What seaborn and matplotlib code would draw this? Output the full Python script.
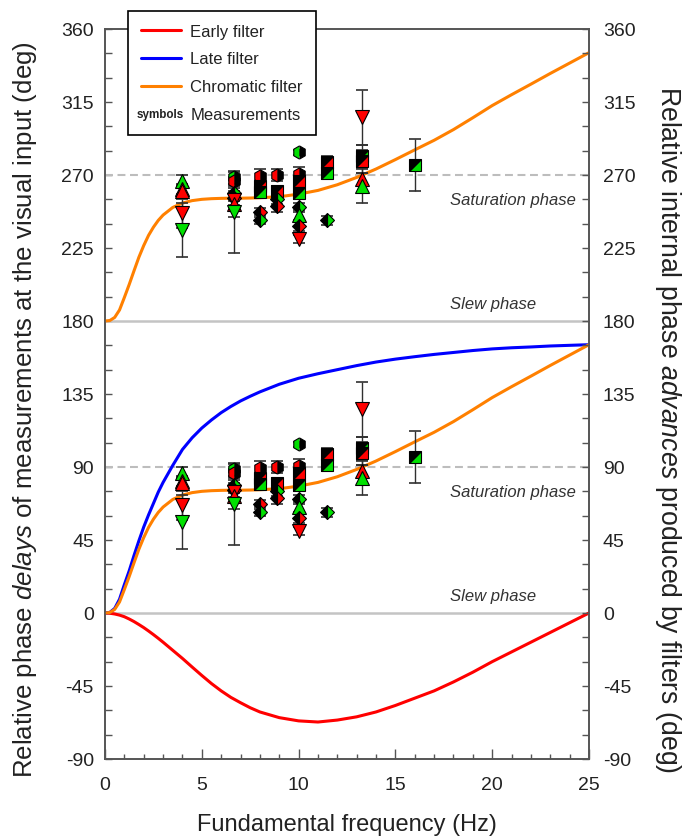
import numpy as np
import matplotlib
matplotlib.use("Agg")
import matplotlib.pyplot as plt
import seaborn as sns
from matplotlib.markers import MarkerStyle
from matplotlib.transforms import Affine2D
from matplotlib.lines import Line2D
from matplotlib.legend_handler import HandlerBase
import matplotlib.text as mtext
from matplotlib.ticker import MultipleLocator

# ---------------- data ----------------
freq_curve = [0, 0.25, 0.5, 0.75, 1, 1.25, 1.5, 1.75, 2, 2.25, 2.5, 2.75, 3,
              3.5, 4, 4.5, 5, 5.5, 6, 6.5, 7, 7.5, 8,
              9, 10, 11, 12, 13, 14, 15, 16, 17, 18, 19, 20, 21, 22, 23, 24, 25]
early_filter = [0, -0.15, -0.6, -1.3, -2.3, -3.7, -5.3, -7.1, -9, -11.1, -13.3, -15.6, -18,
                -23, -28, -33.3, -38.5, -43.5, -48, -52, -55.3, -58.4, -61,
                -64.5, -66.5, -67.2, -66, -64, -61, -57, -52.5, -48, -42.5, -36.5, -30, -24,
                -18, -12, -6, 0]
late_filter = [0, 0.4, 2.8, 8.5, 17.5, 26, 35.5, 44.5, 53, 60.5, 67.5, 74.5, 80.5,
               91, 100.8, 108, 114, 119, 123.5, 127.3, 130.7, 133.6, 136.3,
               141, 144.7, 147.5, 150, 152.5, 154.7, 156.5, 158, 159.4, 160.6, 161.8, 162.8,
               163.5, 164, 164.6, 165, 165.4]
chromatic_filter = [0, 0.3, 2.2, 6.8, 14.5, 22.5, 31, 39.3, 46.5, 52.8, 57.8, 62, 65.3,
                    70, 72.7, 74.2, 75, 75.4, 75.6, 75.7, 75.7, 75.8, 76,
                    76.6, 78.2, 80.5, 84, 88.5, 93.7, 99.5, 105.5, 111.4, 118, 125.3, 132.8,
                    139.5, 146, 152.6, 159, 165.4]

meas_freq = [4.0, 4.0, 4.0, 4.0, 4.0,
             6.67, 6.67, 6.67, 6.67, 6.67, 6.67, 6.67,
             8.0, 8.0, 8.0, 8.0, 8.0,
             8.87, 8.87, 8.87, 8.87,
             10.0, 10.0, 10.0, 10.0, 10.0, 10.0, 10.0, 10.0,
             11.45, 11.45, 11.45,
             13.3, 13.3, 13.3, 13.3, 13.3,
             16.0]
meas_delay = [86.5, 81.5, 80.0, 66.5, 56.0,
              88.5, 86.0, 79.0, 76.0, 74.5, 72.0, 67.0,
              89.5, 83.5, 79.5, 67.5, 62.0,
              90.0, 80.0, 75.0, 71.0,
              104.0, 90.5, 86.5, 79.0, 70.0, 65.5, 58.5, 50.5,
              98.0, 91.5, 62.0,
              125.5, 101.5, 98.5, 87.5, 83.0,
              96.0]
meas_err = [3.5, 3.0, 4.0, 9.0, 16.5,
            4.0, 3.0, 3.0, 2.0, 3.0, 8.0, 25.0,
            4.0, 3.0, 3.0, 2.0, 2.0,
            3.5, 3.0, 3.0, 3.5,
            1.5, 4.5, 2.0, 3.0, 3.0, 3.0, 3.0, 2.5,
            4.0, 4.0, 3.0,
            17.0, 7.0, 7.0, 4.0, 10.5,
            16.0]
meas_symbol = ["tri_up_green", "tri_up_red", "tri_up_red", "tri_down_red", "tri_down_green",
               "hex_green", "hex_red", "dia_green", "dia_red", "tri_down_red", "tri_up_red", "tri_down_green",
               "hex_red", "sq_red", "sq_green", "dia_red", "dia_green",
               "hex_red", "sq_red", "dia_green", "dia_red",
               "hex_green", "hex_red", "sq_red", "sq_green", "dia_green", "tri_up_green", "dia_red", "tri_down_red",
               "sq_red", "sq_green", "dia_green",
               "tri_down_red", "sq_green", "sq_red", "tri_up_red", "tri_up_green",
               "sq_green"]
phase_offset = 180  # upper panel repeats data shifted by 180 deg

# ---------------- style ----------------
sns.set_theme(style="ticks")
plt.rcParams["font.family"] = ["Liberation Sans", "DejaVu Sans"]
plt.rcParams["mathtext.fontset"] = "custom"
plt.rcParams["mathtext.rm"] = "Liberation Sans"
plt.rcParams["mathtext.it"] = "Liberation Sans:italic"
plt.rcParams["axes.unicode_minus"] = False

RED = "#ff0000"
GREEN = "#00e000"
BLUE = "#0000ff"
ORANGE = "#ff8000"
TXT = "#222222"

sq_tr = Affine2D().rotate_deg(-45)
symbol_styles = {
    "tri_up_green": dict(marker="^", mfc=GREEN, alt=GREEN, ms=10),
    "tri_up_red": dict(marker="^", mfc=RED, alt=RED, ms=10),
    "tri_down_green": dict(marker="v", mfc=GREEN, alt=GREEN, ms=10),
    "tri_down_red": dict(marker="v", mfc=RED, alt=RED, ms=10),
    "sq_green": dict(marker=MarkerStyle("D", fillstyle="right", transform=sq_tr), mfc=GREEN, alt="black", ms=8.5),
    "sq_red": dict(marker=MarkerStyle("D", fillstyle="right", transform=sq_tr), mfc=RED, alt="black", ms=8.5),
    "hex_green": dict(marker=MarkerStyle("h", fillstyle="left"), mfc=GREEN, alt="black", ms=9.5),
    "hex_red": dict(marker=MarkerStyle("h", fillstyle="left"), mfc=RED, alt="black", ms=9.5),
    "dia_green": dict(marker=MarkerStyle("D", fillstyle="right"), mfc=GREEN, alt="black", ms=7),
    "dia_red": dict(marker=MarkerStyle("D", fillstyle="right"), mfc=RED, alt="black", ms=7),
}

fig = plt.figure(figsize=(6.83, 8.37), dpi=100)
ax = fig.add_axes([105 / 683, 1 - 760 / 837, 484 / 683, 730 / 837])

# reference lines
for yv in (0, 180):
    ax.axhline(yv, color="#c4c4c4", lw=1.8, zorder=1)
for yv in (90, 270):
    ax.axhline(yv, color="#bdbdbd", lw=1.5, ls=(0, (3.8, 2.2)), zorder=1)

# filter curves
fc = np.array(freq_curve)
sns.lineplot(x=fc, y=np.array(early_filter), ax=ax, color=RED, lw=2.2, zorder=3, sort=False)
sns.lineplot(x=fc, y=np.array(late_filter), ax=ax, color=BLUE, lw=2.2, zorder=3, sort=False)
sns.lineplot(x=fc, y=np.array(chromatic_filter), ax=ax, color=ORANGE, lw=2.2, zorder=3, sort=False)
sns.lineplot(x=fc, y=np.array(chromatic_filter) + phase_offset, ax=ax, color=ORANGE, lw=2.2, zorder=3, sort=False)

# measurements (both panels)
for shift in (0, phase_offset):
    for f, v, e, s in zip(meas_freq, meas_delay, meas_err, meas_symbol):
        ax.errorbar(f, v + shift, yerr=e, fmt="none", ecolor="#303030", elinewidth=1.0,
                    capsize=4, capthick=1.2, zorder=4)
    for f, v, s in zip(meas_freq, meas_delay, meas_symbol):
        st = symbol_styles[s]
        ax.plot([f], [v + shift], linestyle="none", marker=st["marker"], markersize=st["ms"],
                markerfacecolor=st["mfc"], markerfacecoloralt=st["alt"],
                markeredgecolor="black", markeredgewidth=0.8, zorder=5)

# phase annotations
for shift in (0, phase_offset):
    ax.text(24.3, 75 + shift, "Saturation phase", style="italic", fontsize=12, color="#333333",
            ha="right", va="center", zorder=2)
    ax.text(17.8, 11 + shift, "Slew phase", style="italic", fontsize=12, color="#333333",
            ha="left", va="center", zorder=2)

# axes
ax.set_xlim(0, 25)
ax.set_ylim(-90, 360)
ax.set_xticks(range(0, 26, 5))
ax.xaxis.set_minor_locator(MultipleLocator(1))
ax.set_yticks(range(-90, 361, 45))
ax.yaxis.set_minor_locator(MultipleLocator(15))
ax.set_xlabel("")
ax.set_ylabel("")

ax2 = ax.twinx()
ax2.set_ylim(-90, 360)
ax2.set_yticks(range(-90, 361, 45))
ax2.yaxis.set_minor_locator(MultipleLocator(15))

for a in (ax, ax2):
    for sp in a.spines.values():
        sp.set_color("#555555")
        sp.set_linewidth(1.2)
    a.tick_params(axis="both", which="both", direction="in", color="#555555", width=1.0,
                  labelsize=14, labelcolor=TXT)
    a.tick_params(axis="y", which="both", length=5)
ax.tick_params(axis="x", which="major", length=7, pad=12)
ax.tick_params(axis="x", which="minor", length=3.6)
ax.tick_params(axis="y", pad=8)
ax2.tick_params(axis="y", pad=10)

fig.text(347 / 683, 1 - 825 / 837, "Fundamental frequency (Hz)", ha="center", va="center",
         fontsize=17, color=TXT)
fig.text(25 / 683, 1 - 410 / 837,
         r"Relative phase $\mathit{delays}$ of measurements at the visual input (deg)",
         rotation=90, ha="center", va="center", fontsize=18.6, color=TXT)
fig.text(668 / 683, 1 - 430 / 837,
         r"Relative internal phase $\mathit{advances}$ produced by filters (deg)",
         rotation=-90, ha="center", va="center", fontsize=19.2, color=TXT)


# legend
class TextHandle:
    pass


class HandlerSymbols(HandlerBase):
    def create_artists(self, legend, orig_handle, xdescent, ydescent, width, height,
                       fontsize, trans):
        t = mtext.Text(x=width / 2 - xdescent, y=height / 2 - ydescent, text="symbols",
                       ha="center", va="center", fontsize=fontsize * 0.7,
                       fontweight="bold", color=TXT, transform=trans)
        return [t]


handles = [Line2D([], [], color=RED, lw=2.2), Line2D([], [], color=BLUE, lw=2.2),
           Line2D([], [], color=ORANGE, lw=2.2), TextHandle()]
labels = ["Early filter", "Late filter", "Chromatic filter", "Measurements"]
leg = fig.legend(handles, labels, loc="upper left", bbox_to_anchor=(128 / 683, 1 - 12 / 837),
                 bbox_transform=fig.transFigure, borderaxespad=0, fontsize=12,
                 handler_map={TextHandle: HandlerSymbols()}, handlelength=2.4,
                 handletextpad=0.6, labelspacing=0.78, borderpad=0.75, fancybox=False,
                 framealpha=1, edgecolor="black")
leg.get_frame().set_linewidth(1.2)
for t in leg.get_texts():
    t.set_color(TXT)

fig.savefig("out.png", dpi=100)
